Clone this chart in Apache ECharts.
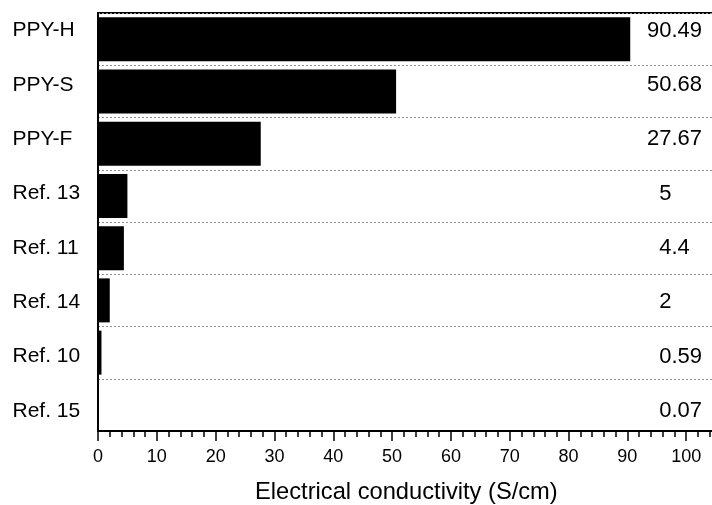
<!DOCTYPE html>
<html>
<head>
<meta charset="utf-8">
<script src="https://cdn.jsdelivr.net/npm/echarts@6/dist/echarts.min.js"></script>
<style>
  html, body { margin: 0; padding: 0; background: #fff; }
  #chart { width: 712px; height: 505px; }
</style>
</head>
<body>
<div id="chart"></div>
<script>
const categories = ['PPY-H', 'PPY-S', 'PPY-F', 'Ref. 13', 'Ref. 11', 'Ref. 14', 'Ref. 10', 'Ref. 15'];
const values = [90.49, 50.68, 27.67, 5, 4.4, 2, 0.59, 0.07];
const xTitle = 'Electrical conductivity (S/cm)';

const FONT = "'Liberation Sans', Arial, Helvetica, sans-serif";
const intParts = values.map(v => String(v).split('.')[0]);
const decParts = values.map(v => { const p = String(v).split('.'); return p.length > 1 ? '.' + p[1] : ''; });

const chart = echarts.init(document.getElementById('chart'), null, { renderer: 'canvas' });
chart.setOption({
  backgroundColor: '#fff',
  animation: false,
  title: {
    text: xTitle,
    left: 255,
    top: 480,
    padding: 0,
    textStyle: { fontFamily: FONT, fontSize: 23.7, fontWeight: 'normal', color: '#000' }
  },
  grid: [
    { left: 98, right: -33, top: 13, bottom: 74, outerBoundsMode: 'none', containLabel: false,
      show: true, borderColor: '#000', borderWidth: 2 },
    { left: 98, right: 40.5, top: 3.5, height: 434.4, outerBoundsMode: 'none', containLabel: false }
  ],
  xAxis: [
    {
      type: 'value', gridIndex: 0, min: 0, max: 110, interval: 10,
      axisLine: { show: true, lineStyle: { color: '#000', width: 2 } },
      axisTick: { show: true, length: 10, lineStyle: { color: '#000', width: 1.5 } },
      minorTick: { show: true, splitNumber: 5, length: 6, lineStyle: { color: '#000', width: 1.5 } },
      splitLine: { show: false },
      axisLabel: { color: '#000', fontFamily: FONT, fontSize: 18, margin: 17, showMaxLabel: false }
    },
    { type: 'value', gridIndex: 1, show: false, min: 0, max: 1 }
  ],
  yAxis: [
    {
      type: 'category', gridIndex: 0, data: categories, inverse: true,
      axisLine: { show: true, lineStyle: { color: '#000', width: 2 } },
      axisTick: { show: false },
      axisLabel: { show: false },
      splitLine: { show: true, lineStyle: { color: '#909090', width: 1, type: [2, 2] } }
    },
    {
      type: 'category', gridIndex: 1, data: categories, inverse: true, position: 'left',
      axisLine: { show: false }, axisTick: { show: false }, splitLine: { show: false },
      axisLabel: { color: '#000', fontFamily: FONT, fontSize: 21, align: 'left', margin: 85.5 }
    },
    {
      type: 'category', gridIndex: 1, data: intParts, inverse: true, position: 'right',
      axisLine: { show: false }, axisTick: { show: false }, splitLine: { show: false },
      axisLabel: { inside: true, margin: 0, color: '#000', fontFamily: FONT, fontSize: 22 }
    },
    {
      type: 'category', gridIndex: 1, data: decParts, inverse: true, position: 'right',
      axisLine: { show: false }, axisTick: { show: false }, splitLine: { show: false },
      axisLabel: { inside: false, margin: 0, color: '#000', fontFamily: FONT, fontSize: 22 }
    }
  ],
  series: [
    {
      type: 'bar', xAxisIndex: 0, yAxisIndex: 0,
      data: values, barWidth: 44,
      itemStyle: { color: '#000' },
      label: { show: false }
    }
  ]
});
</script>
</body>
</html>
